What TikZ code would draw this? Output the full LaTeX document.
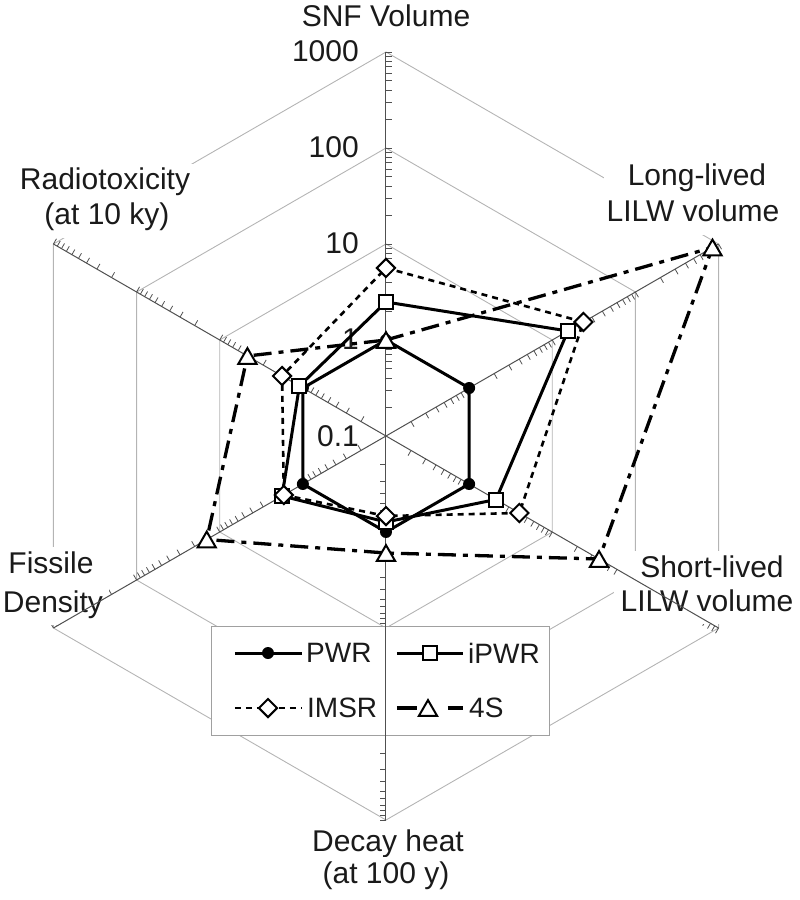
\documentclass[tikz,border=0pt]{standalone}
\usepackage{fontspec}
\setmainfont{Liberation Sans}
\usetikzlibrary{shapes.geometric}
\definecolor{gridc}{HTML}{B4B4B4}
\definecolor{axc}{HTML}{505050}
\definecolor{boxc}{HTML}{A0A0A0}
\definecolor{txt}{HTML}{1A1A1A}
\tikzset{
  gridline/.style={draw=gridc, line width=0.9pt},
  axisline/.style={draw=axc, line width=1pt},
  tickline/.style={draw=axc, line width=0.8pt},
  lab/.style={fill=white, inner xsep=6pt, inner ysep=1pt, text height=25pt, text depth=12pt,
              anchor=base, font=\fontsize{30}{36}\selectfont, text=txt},
  num/.style={inner sep=0pt, anchor=base east, font=\fontsize{30}{36}\selectfont, text=txt},
  legtext/.style={anchor=west, inner sep=0pt, font=\fontsize{28}{32}\selectfont, text=txt},
  legbox/.style={draw=boxc, fill=white, line width=1pt},
  pwrline/.style={line width=3pt, line join=round},
  ipwrline/.style={line width=3pt, line join=round},
  imsrline/.style={line width=2.6pt, dash pattern=on 6pt off 5pt},
  sfourline/.style={line width=3.3pt, dash pattern=on 18pt off 7pt on 5pt off 7pt},
  pwrmark/.style={circle, fill=black, inner sep=0pt, minimum size=12pt},
  ipwrmark/.style={rectangle, draw=black, fill=white, line width=2pt, inner sep=0pt, minimum size=14pt},
  imsrmark/.style={diamond, draw=black, fill=white, line width=2pt, inner sep=0pt,
                   minimum width=19pt, minimum height=19pt},
  sfourmark/.style={regular polygon, regular polygon sides=3, draw=black, fill=white,
                    line width=2pt, inner sep=0pt, minimum size=21pt, yshift=-2.6pt}
}
\begin{document}
\begin{tikzpicture}[x=1pt,y=1pt]
\useasboundingbox (-386,-464) rectangle (414,436);
\coordinate (ctr) at (0,0);
% grid rings
\foreach \r in {96,192,288,384}
  \draw[gridline] (90:\r) -- (30:\r) -- (-30:\r) -- (-90:\r) -- (-150:\r) -- (150:\r) -- cycle;
% ticks
\foreach \a in {90,30,-30,-90,-150,150}{
  \foreach \d in {0,1,2,3}{
    \foreach \l in {0.30103,0.47712,0.60206,0.69897,0.77815,0.84510,0.90309,0.95424,1}{
      \draw[tickline] ({\a}:{96*(\d+\l)}) -- ++({\a-90}:6);
    }
  }
}
% axis labels
\node[lab] (snf) at (0,409) {SNF Volume};
\node[lab, minimum width=182pt] (rt1) at (-281,246) {Radiotoxicity};
\node[lab, minimum width=182pt] (rt2) at (-279,211) {(at 10 ky)};
\node[lab, minimum width=187pt] (ll1) at (311,250) {Long-lived};
\node[lab, minimum width=187pt] (ll2) at (307,214) {LILW volume};
\node[lab, minimum width=187pt] (sl1) at (326,-141) {Short-lived};
\node[lab, minimum width=187pt] (sl2) at (321,-175) {LILW volume};
\node[lab, minimum width=112pt] (fd1) at (-335,-137) {Fissile};
\node[lab, minimum width=112pt] (fd2) at (-333,-176) {Density};
\node[lab, minimum width=164pt] (dh1) at (2,-415) {Decay heat};
\node[lab, minimum width=164pt] (dh2) at (0,-447) {(at 100 y)};
% legend box
\draw[legbox] (-174,-190) rectangle (163,-299);
% axes
\foreach \a in {90,30,-30,-90,-150,150}
  \draw[axisline] (ctr) -- (\a:384);
% scale numbers
\node[num] (n0) at (-27,-10) {0.1};
\node[num] (n1) at (-27,86) {1};
\node[num] (n2) at (-27,182) {10};
\node[num] (n3) at (-27,278) {100};
\node[num] (n4) at (-27,374) {1000};
% PWR
\coordinate (a1) at (90:96);
\coordinate (a2) at (30:96);
\coordinate (a3) at (-30:96);
\coordinate (a4) at (-90:96);
\coordinate (a5) at (-150:96);
\coordinate (a6) at (150:96);
\draw[pwrline] (a1) -- (a2) -- (a3) -- (a4) -- (a5) -- (a6) -- cycle;
\foreach \k in {1,...,6} \node[pwrmark] (ma\k) at (a\k) {};
% iPWR
\coordinate (b1) at (90:134);
\coordinate (b2) at (30:210);
\coordinate (b3) at (-30:127);
\coordinate (b4) at (-90:86);
\coordinate (b5) at (-150:120);
\coordinate (b6) at (150:100);
\draw[ipwrline] (b1) -- (b2) -- (b3) -- (b4) -- (b5) -- (b6) -- cycle;
\foreach \k in {1,...,6} \node[ipwrmark] (mb\k) at (b\k) {};
% IMSR
\coordinate (c1) at (90:168);
\coordinate (c2) at (30:228);
\coordinate (c3) at (-30:154);
\coordinate (c4) at (-90:80);
\coordinate (c5) at (-150:118);
\coordinate (c6) at (150:120);
\draw[imsrline] (c1) -- (c2) -- (c3) -- (c4) -- (c5) -- (c6) -- cycle;
\foreach \k in {1,...,6} \node[imsrmark] (mc\k) at (c\k) {};
% 4S
\coordinate (d1) at (90:96);
\coordinate (d2) at (30:377);
\coordinate (d3) at (-30:246);
\coordinate (d4) at (-90:117);
\coordinate (d5) at (-150:207);
\coordinate (d6) at (150:160);
\draw[sfourline] (d1) -- (d2) -- (d3) -- (d4) -- (d5) -- (d6) -- cycle;
\foreach \k in {1,...,6} \node[sfourmark] (md\k) at (d\k) {};
% legend entries
\coordinate (la1) at (-151,-217);
\coordinate (la2) at (-84,-217);
\draw[pwrline] (la1) -- (la2);
\node[pwrmark] (lma) at (-118,-217) {};
\node[legtext] (lta) at (-80,-217) {PWR};
\coordinate (lb1) at (11,-217);
\coordinate (lb2) at (77,-217);
\draw[ipwrline] (lb1) -- (lb2);
\node[ipwrmark] (lmb) at (44,-217) {};
\node[legtext] (ltb) at (82,-217) {iPWR};
\coordinate (lc1) at (-151,-272);
\coordinate (lc2) at (-84,-272);
\draw[imsrline] (lc1) -- (lc2);
\node[imsrmark] (lmc) at (-118,-272) {};
\node[legtext] (ltc) at (-79,-272) {IMSR};
\coordinate (ld1) at (11,-272);
\coordinate (ld2) at (31,-272);
\coordinate (ld3) at (62,-272);
\coordinate (ld4) at (77,-272);
\draw[line width=3.2pt] (ld1) -- (ld2);
\draw[line width=3.2pt] (ld3) -- (ld4);
\node[sfourmark] (lmd) at (42,-272) {};
\node[legtext] (ltd) at (83,-272) {4S};
\end{tikzpicture}
\end{document}
